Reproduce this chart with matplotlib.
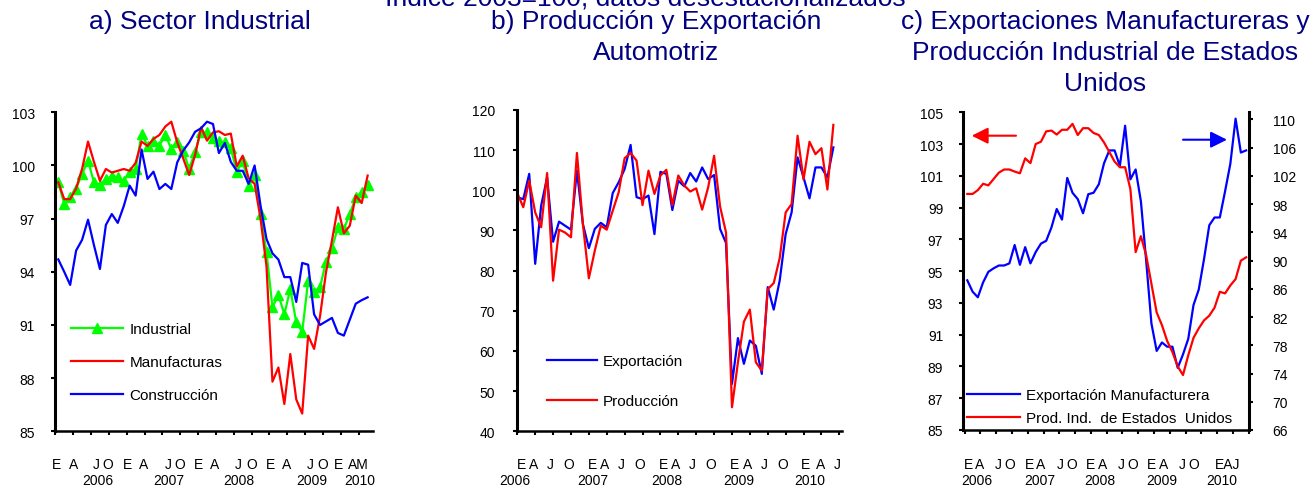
import matplotlib
matplotlib.use("Agg")
import matplotlib.pyplot as plt
import matplotlib.transforms as mtransforms
import numpy as np

plt.rcParams['font.family'] = ['Liberation Sans', 'DejaVu Sans']

# --- data (monthly indices, 2003=100, seasonally adjusted) ---
# a) Sector industrial, Jan 2006 - May 2010
industrial = [99.05, 97.83, 98.2, 98.7, 99.52, 100.27, 99.05, 98.9, 99.24, 99.39,
              99.33, 99.14, 99.65, 99.8, 101.78, 101.12, 101.4, 101.12, 101.72, 100.93,
              101.35, 100.84, 99.8, 100.78, 101.87, 101.87, 101.53, 101.4, 101.3, 100.96,
              99.65, 100.27, 98.82, 99.46, 97.26, 95.1, 92.0, 92.7, 91.6, 93.03,
              91.15, 90.6, 93.5, 92.87, 93.13, 94.57, 95.33, 96.5, 96.4, 97.26,
              98.2, 98.49, 98.9]
manufacturas = [99.05, 98.1, 98.1, 98.7, 99.8, 101.35, 100.2, 99.14, 99.8, 99.6,
                99.7, 99.8, 99.7, 100.15, 101.35, 101.1, 101.5, 101.72, 102.2, 102.47,
                101.3, 100.4, 99.46, 100.6, 102.15, 101.4, 101.87, 101.93, 101.72, 101.8,
                99.95, 100.55, 99.27, 98.96, 97.0, 94.3, 87.8, 88.6, 86.54, 89.36,
                86.8, 86.0, 90.4, 89.65, 91.5, 93.97, 95.76, 97.64, 96.17, 96.6,
                98.3, 97.88, 99.43]
construccion = [94.7, 94.0, 93.26, 95.2, 95.8, 96.94, 95.5, 94.16, 96.64, 97.26,
                96.76, 97.7, 98.86, 98.3, 100.9, 99.24, 99.65, 98.67, 98.96, 98.67,
                100.18, 100.84, 101.3, 101.9, 102.1, 102.47, 102.34, 100.7, 101.27, 100.2,
                99.7, 99.7, 98.96, 100.0, 97.73, 95.85, 95.04, 94.69, 93.7, 93.7,
                92.3, 94.5, 94.4, 91.6, 91.0, 91.2, 91.4, 90.55, 90.4, 91.3,
                92.2, 92.4, 92.56]

# b) Automotriz, Jan 2006 - Jun 2010
exportacion = [98.26, 97.8, 104.1, 81.7, 96.2, 103.2, 87.2, 92.2, 91.2, 90.2,
               104.9, 91.6, 85.6, 90.4, 91.9, 90.8, 99.3, 102.0, 105.3, 111.3,
               98.3, 97.8, 98.7, 89.1, 104.6, 104.1, 95.1, 102.4, 101.0, 104.3,
               102.2, 105.7, 102.8, 103.8, 90.4, 86.9, 51.8, 63.2, 56.8, 62.6,
               61.3, 54.3, 75.9, 70.3, 77.5, 89.1, 94.5, 108.2, 103.2, 98.0,
               105.7, 105.7, 103.2, 110.7]
produccion = [99.3, 95.8, 102.4, 94.5, 90.8, 104.3, 77.5, 90.2, 89.5, 88.3,
              109.3, 91.6, 78.1, 85.0, 91.2, 90.2, 94.9, 99.5, 108.0, 109.3,
              107.4, 96.3, 104.9, 99.1, 103.7, 105.1, 96.3, 103.7, 101.2, 99.7,
              100.5, 95.2, 100.7, 108.6, 96.0, 89.5, 46.0, 57.2, 67.3, 70.3,
              57.2, 55.1, 75.4, 76.9, 83.1, 94.5, 96.6, 113.6, 102.7, 112.1,
              109.0, 110.5, 100.2, 116.3]

# c) Exportaciones manufactureras (der.) y producción industrial EEUU (izq.)
export_manuf = [87.2, 85.6, 84.8, 86.9, 88.4, 88.9, 89.3, 89.3, 89.6, 92.2,
                89.4, 91.9, 89.6, 91.2, 92.4, 92.8, 94.7, 97.3, 95.8, 101.7,
                99.6, 98.7, 96.7, 99.4, 99.6, 100.8, 103.8, 105.6, 105.6, 103.4,
                109.1, 101.5, 102.9, 98.4, 90.0, 81.1, 77.2, 78.4, 77.8, 77.8,
                74.8, 76.7, 78.9, 83.7, 85.9, 90.2, 95.0, 96.1, 96.1, 99.8,
                103.7, 110.1, 105.3, 105.6]
prod_eeuu = [99.86, 99.86, 100.1, 100.5, 100.4, 100.8, 101.2, 101.4, 101.4, 101.27,
             101.16, 102.1, 101.8, 103.0, 103.15, 103.8, 103.85, 103.6, 103.9, 103.9,
             104.27, 103.57, 104.0, 104.0, 103.7, 103.57, 103.1, 102.5, 101.9, 101.54,
             101.54, 100.17, 96.2, 97.2, 96.0, 94.2, 92.4, 91.6, 90.6, 89.9,
             89.0, 88.46, 89.7, 90.8, 91.4, 91.9, 92.2, 92.7, 93.7, 93.6,
             94.1, 94.5, 95.66, 95.87]

# month letters under each panel and the year row
labels_a = ['E', 'A', 'J', 'O'] * 4 + ['E', 'AM']
labels_b = ['E', 'A', 'J', 'O'] * 4 + ['E', 'A', 'J']
labels_c = ['E', 'A', 'J', 'O'] * 4 + ['EAJ']
years = ['2006', '2007', '2008', '2009', '2010']

# label positions (in month units of each panel)
pos_a = [-0.3, 2.5, 6.4, 8.4, 11.6, 14.3, 18.4, 20.4, 23.5, 26.3, 30.2, 32.5,
         35.6, 38.4, 42.3, 44.5, 47.1, 50.4]
ypos_a = [6.7, 18.5, 30.4, 42.6, 50.7]
pos_b = [0.7, 2.7, 5.5, 8.6, 12.6, 14.7, 17.5, 20.5, 24.5, 26.5, 29.4, 32.4,
         36.5, 38.6, 41.4, 44.5, 48.4, 50.8, 53.6]
ypos_b = [-0.4, 12.7, 25.1, 37.1, 49.1]
pos_c = [0.2, 2.4, 5.9, 8.1, 11.8, 14.0, 17.6, 19.8, 23.5, 25.7, 29.3, 31.5,
         35.1, 37.3, 40.9, 43.1, 49.5]
ypos_c = [1.8, 13.8, 25.2, 37.0, 48.4]

W, H = 1315, 489
NAVY = '#000080'
GREEN, RED, BLUE = '#00FF00', '#FF0000', '#0000FF'
LW = 1.6

fig = plt.figure(figsize=(W / 100, H / 100), dpi=100)


def box(left, top, right, bottom):
  return [left / W, 1 - bottom / H, (right - left) / W, (bottom - top) / H]


def style(ax, ylim, yticks, pad):
  ax.set_ylim(ylim)
  ax.set_yticks(yticks)
  ax.tick_params(axis='x', direction='out', length=3, width=1.5, labelbottom=False)
  ax.tick_params(axis='y', direction='out', length=3, width=1.5, labelsize=10, pad=pad)
  ax.spines['top'].set_visible(False)
  ax.spines['right'].set_visible(False)
  ax.spines['left'].set_linewidth(2.2)
  ax.spines['bottom'].set_linewidth(1.8)


def month_row(ax, labels, pos, ypos):
  trans = mtransforms.blended_transform_factory(ax.transData, fig.transFigure)
  for lab, p in zip(labels, pos):
    ax.text(p, 1 - 465 / H, lab, transform=trans, ha='center', va='center',
            fontsize=10, clip_on=False)
  for lab, p in zip(years, ypos):
    ax.text(p, 1 - 481.5 / H, lab, transform=trans, ha='center', va='center',
            fontsize=10, clip_on=False)


def legend(ax, handles, x, yc, spacing, hl):
  leg = ax.legend(handles=handles, loc='center left', bbox_to_anchor=(x / W, 1 - yc / H),
                  bbox_transform=fig.transFigure, frameon=False, fontsize=11,
                  borderpad=0, borderaxespad=0, handlelength=hl, handletextpad=0.42,
                  labelspacing=spacing, numpoints=1)
  return leg


# ---------- a) Sector Industrial ----------
ax_a = fig.add_axes(box(55, 113.3, 372.7, 432.3))
xa = np.arange(len(industrial))
la_i, = ax_a.plot(xa, industrial, color=GREEN, lw=LW, marker='^', markersize=7.5,
                  markeredgecolor=GREEN, label='Industrial')
la_m, = ax_a.plot(xa, manufacturas, color=RED, lw=LW, label='Manufacturas')
la_c, = ax_a.plot(xa, construccion, color=BLUE, lw=LW, label='Construcción')
ax_a.set_xlim(-0.55, 52.85)
ax_a.set_xticks(np.arange(-0.5, 51, 3))
style(ax_a, (85, 103), np.arange(85, 104, 3), 11.5)
month_row(ax_a, labels_a, pos_a, ypos_a)
legend(ax_a, [la_i, la_m, la_c], 70.7, 363.3, 1.25, 3.44)

# ---------- b) Producción y Exportación Automotriz ----------
ax_b = fig.add_axes(box(516.7, 111, 842.3, 432.3))
xb = np.arange(len(exportacion))
lb_e, = ax_b.plot(xb, exportacion, color=BLUE, lw=LW, label='Exportación')
lb_p, = ax_b.plot(xb, produccion, color=RED, lw=LW, label='Producción')
ax_b.set_xlim(-0.1, 54.5)
ax_b.set_xticks(np.arange(0, 55, 3))
style(ax_b, (40, 120), np.arange(40, 121, 10), 12.5)
month_row(ax_b, labels_b, pos_b, ypos_b)
legend(ax_b, [lb_e, lb_p], 546.7, 382.0, 1.72, 3.27)

# ---------- c) Exportaciones manufactureras y producción EEUU ----------
ax_c = fig.add_axes(box(963.3, 113.3, 1249, 431))
ax_c2 = ax_c.twinx()
xc = np.arange(len(prod_eeuu))
lc_e, = ax_c2.plot(xc, export_manuf, color=BLUE, lw=LW, label='Exportación Manufacturera')
lc_p, = ax_c.plot(xc, prod_eeuu, color=RED, lw=LW, label='Prod. Ind.  de Estados  Unidos')
ax_c.set_zorder(ax_c2.get_zorder() + 1)
ax_c.patch.set_visible(False)
ax_c.set_xlim(-0.76, 53.55)
ax_c.set_xticks(np.arange(-0.5, 54, 3))
style(ax_c, (85, 105), np.arange(85, 106, 2), 11.5)
ax_c2.set_ylim(66, 111)
ax_c2.set_yticks(np.arange(66, 111, 4))
ax_c2.tick_params(axis='y', direction='out', length=3, width=1.5, labelsize=10, pad=14)
for s in ['top', 'left', 'bottom']:
  ax_c2.spines[s].set_visible(False)
ax_c2.spines['right'].set_linewidth(2.2)
month_row(ax_c, labels_c, pos_c, ypos_c)
legend(ax_c, [lc_e, lc_p], 967.3, 407.7, 0.6, 3.45)

# axis arrows
ax_c.annotate('', xy=(971.7 / W, 1 - 136.7 / H), xytext=(1016 / W, 1 - 136.7 / H),
              xycoords='figure fraction', textcoords='figure fraction',
              arrowprops=dict(arrowstyle='-|>,head_length=0.7,head_width=0.35',
                              color=RED, lw=1.5, mutation_scale=14, shrinkA=0, shrinkB=0))
ax_c.annotate('', xy=(1227 / W, 1 - 140.7 / H), xytext=(1183 / W, 1 - 140.7 / H),
              xycoords='figure fraction', textcoords='figure fraction',
              arrowprops=dict(arrowstyle='-|>,head_length=0.7,head_width=0.35',
                              color=BLUE, lw=1.5, mutation_scale=14, shrinkA=0, shrinkB=0))

# titles
fig.text(645 / W, 1 - 7 / H, 'Índice 2003=100, datos desestacionalizados',
         ha='center', va='baseline', fontsize=19, color=NAVY)
title_kw = dict(ha='center', va='top', fontsize=19, color=NAVY, linespacing=1.38,
                multialignment='center')
fig.text(200 / W, 1 - 10 / H, 'a) Sector Industrial', **title_kw)
fig.text(656 / W, 1 - 10 / H, 'b) Producción y Exportación\nAutomotriz', **title_kw)
fig.text(1105 / W, 1 - 10 / H, 'c) Exportaciones Manufactureras y\nProducción Industrial de Estados\nUnidos', **title_kw)

fig.savefig('out.png', dpi=100)
